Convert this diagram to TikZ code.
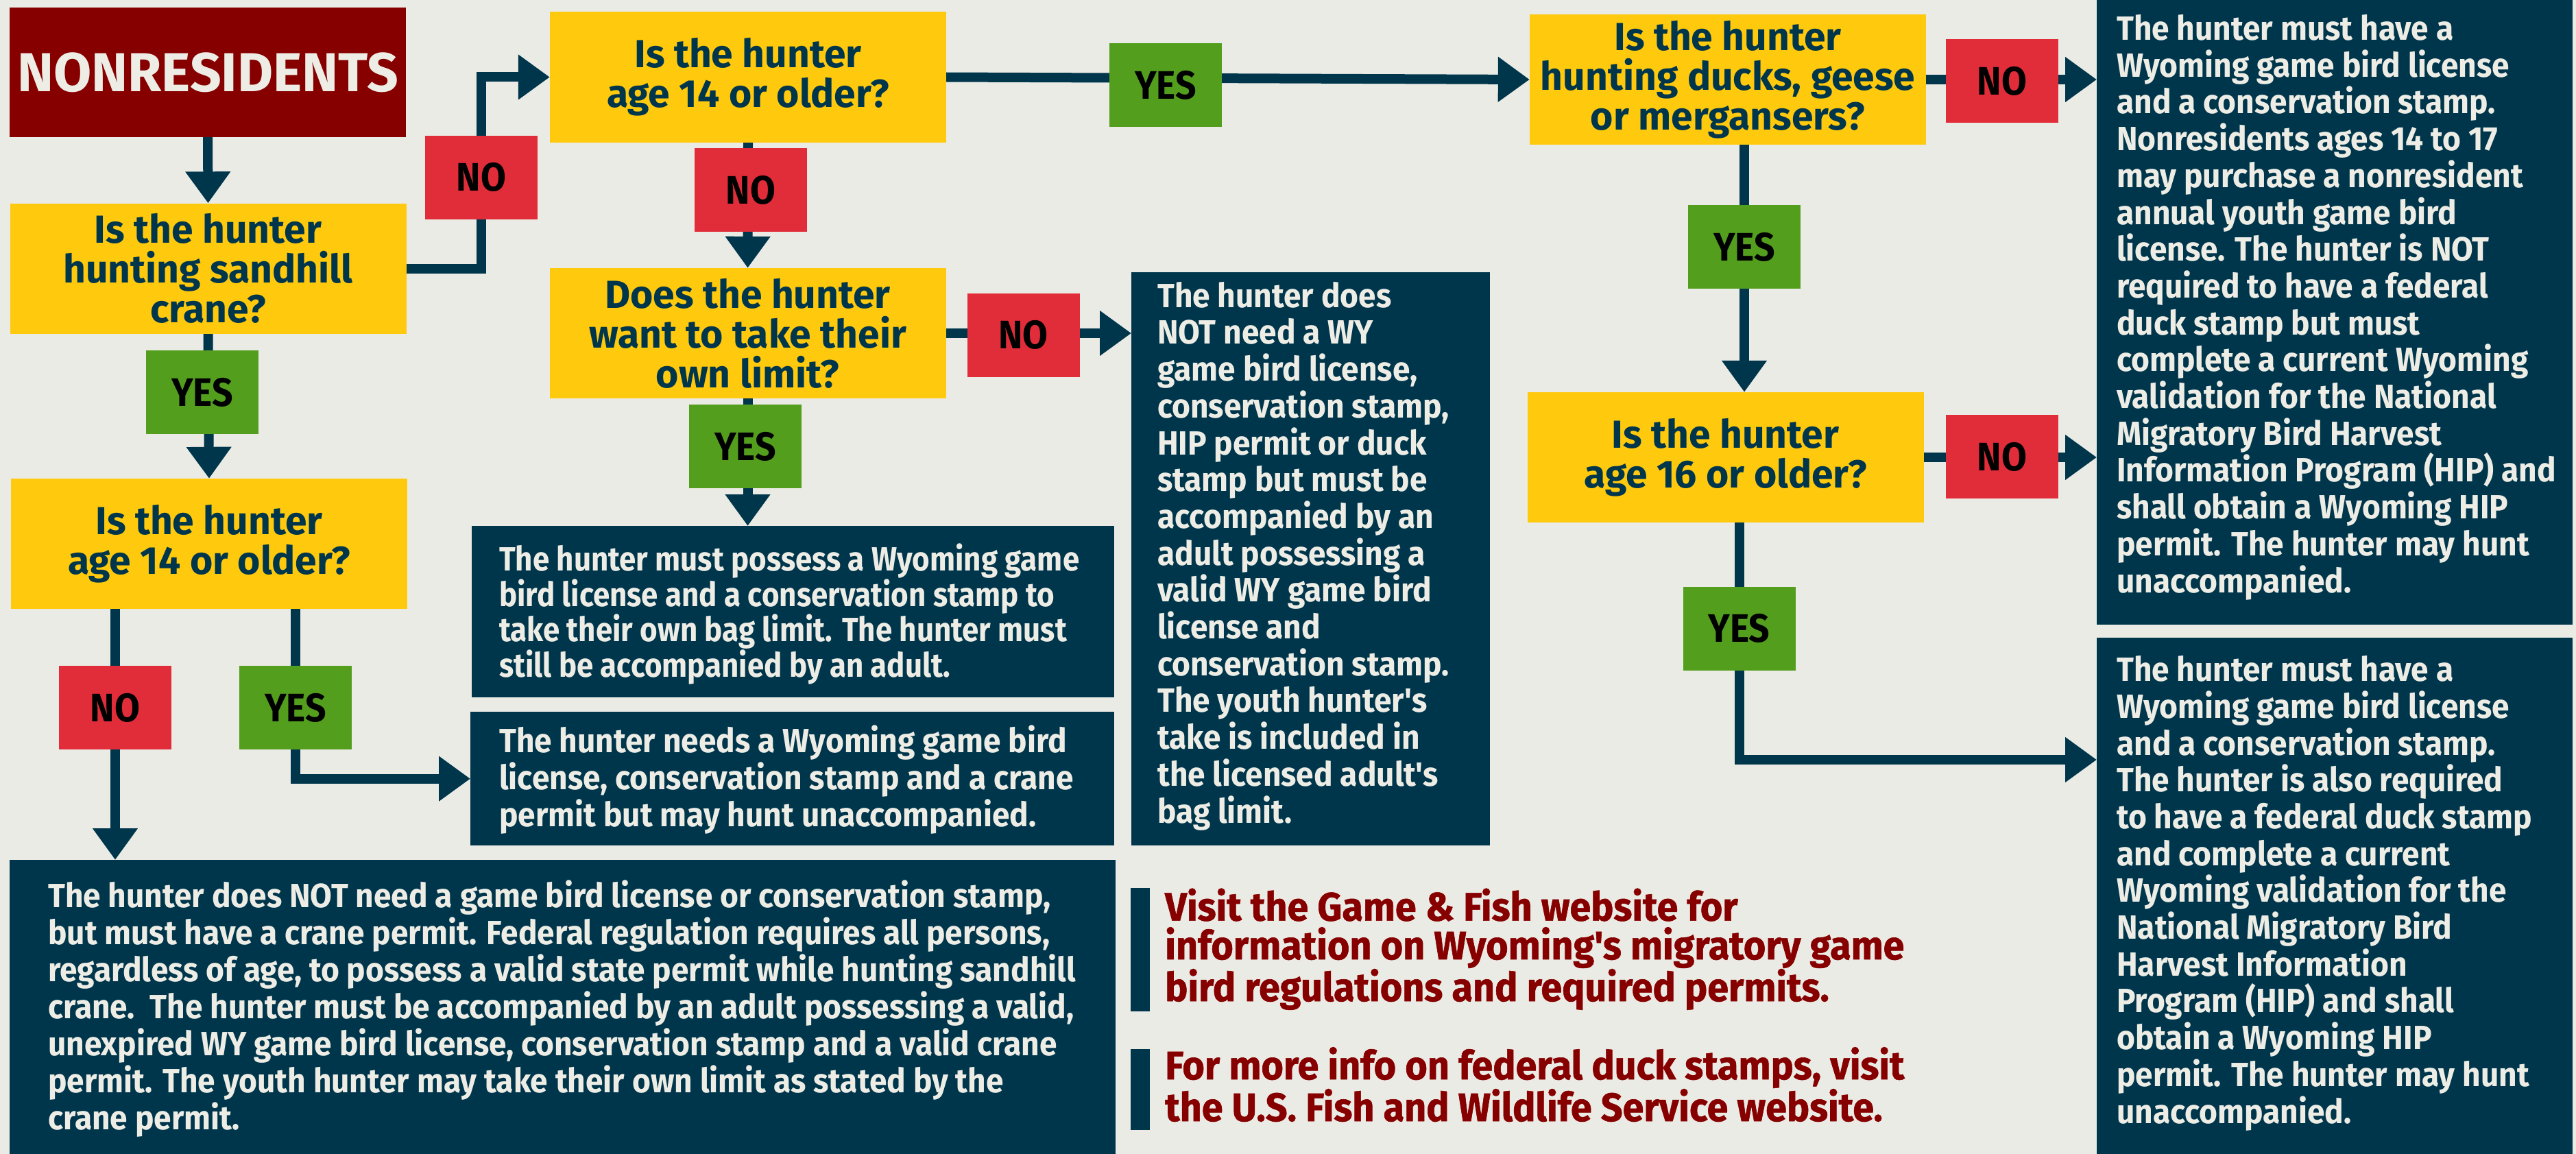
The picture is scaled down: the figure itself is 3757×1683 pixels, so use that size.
\documentclass[tikz,border=0pt]{standalone}
\usepackage{fontspec}
\setmainfont{Fira Sans}
\newfontfamily\fq{Fira Sans}
\newfontfamily\fb{Fira Sans}[FakeStretch=0.94]
\newfontfamily\fbn{Fira Sans}[FakeStretch=0.895]
\newfontfamily\fc{Fira Sans}[FakeStretch=0.92]
\newfontfamily\fr{Fira Sans}[FakeStretch=0.96,FakeBold=1]
\usetikzlibrary{arrows.meta}
\definecolor{bgc}{HTML}{EBEBE5}
\definecolor{navy}{HTML}{00364C}
\definecolor{ylw}{HTML}{FFC90E}
\definecolor{rd}{HTML}{E12D39}
\definecolor{grn}{HTML}{549E1E}
\definecolor{drd}{HTML}{870000}
\definecolor{lt}{HTML}{EDEDE6}
\pgfdeclarelayer{bg}
\pgfsetlayers{bg,main}
\tikzset{
  qbox/.style={fill=ylw, text=navy, inner sep=0pt, align=center, minimum width=578pt, minimum height=190pt, font=\fq\bfseries\fontsize{57}{58}\selectfont},
  nobox/.style={fill=rd, text=black, inner sep=0pt, minimum width=164pt, minimum height=122pt, font=\fc\bfseries\fontsize{58}{58}\selectfont},
  yesbox/.style={nobox, fill=grn},
  dbox/.style={fill=navy, inner sep=0pt, anchor=north west},
  dtext/.style={text=lt, inner sep=0pt, anchor=base west, align=left, font=\fb\bfseries\fontsize{49}{53.7}\selectfont},
  redtext/.style={text=drd, inner sep=0pt, anchor=base west, align=left, font=\fr\bfseries\fontsize{58}{56.5}\selectfont},
  conn/.style={draw=navy, line width=14pt, -{Triangle[length=46pt,width=63pt]}},
}
\begin{document}
\begin{tikzpicture}[x=1pt,y=-1pt]
\useasboundingbox (0,0) rectangle (3757,1683);
\begin{pgfonlayer}{bg}
\fill[bgc] (0,0) rectangle (3757,1683);
\end{pgfonlayer}

% header
\node[fill=drd, text=lt, inner sep=0pt, minimum width=578pt, minimum height=189pt, font=\fq\bfseries\fontsize{80}{80}\selectfont] (nonres) at (303,105.5) {NONRESIDENTS};

% question boxes
\node[qbox] (q1) at (303.5,391.5) {Is the hunter\\hunting sandhill\\crane?};
\node[qbox] (q2) at (1091,112.5) {Is the hunter\\age 14 or older?};
\node[qbox] (q4) at (1090.5,486) {Does the hunter\\want to take their\\own limit?};
\node[qbox] (q5) at (305,793) {Is the hunter\\age 14 or older?};
\node[qbox] (q3) at (2520,116) {Is the hunter\\hunting ducks, geese\\or mergansers?};
\node[qbox] (q6) at (2516.5,667) {Is the hunter\\age 16 or older?};

% answer boxes
\node[dbox, minimum width=523pt, minimum height=836pt] (dk1) at (1650,397) {};
\node[dbox, minimum width=937pt, minimum height=250pt] (dk2) at (688,767) {};
\node[dbox, minimum width=939pt, minimum height=195pt] (dk3) at (686,1038) {};
\node[dbox, minimum width=1613pt, minimum height=429pt] (dk4) at (14,1254) {};
\node[dbox, minimum width=694pt, minimum height=911pt] (dk5) at (3058,0) {};
\node[dbox, minimum width=694pt, minimum height=753pt] (dk6) at (3058,930) {};
\coordinate (t6) at (3058,1108);

% texts (anchored at the baseline of their last line)
\node[dtext] (tx1) at (1688,1200) {The hunter does\\NOT need a WY\\game bird license,\\conservation stamp,\\HIP permit or duck\\stamp but must be\\accompanied by an\\adult possessing a\\valid WY game bird\\license and\\conservation stamp.\\The youth hunter's\\take is included in\\the licensed adult's\\bag limit.};
\node[dtext, font=\fbn\bfseries\fontsize{49}{51.5}\selectfont] (tx2) at (728,987) {The hunter must possess a Wyoming game\\bird license and a conservation stamp to\\take their own bag limit. The hunter must\\still be accompanied by an adult.};
\node[dtext] (tx3) at (728,1205) {The hunter needs a Wyoming game bird\\license, conservation stamp and a crane\\permit but may hunt unaccompanied.};
\node[dtext, font=\fb\bfseries\fontsize{49}{54}\selectfont] (tx4) at (70,1647) {The hunter does NOT need a game bird license or conservation stamp,\\but must have a crane permit. Federal regulation requires all persons,\\regardless of age, to possess a valid state permit while hunting sandhill\\crane.\ \ The hunter must be accompanied by an adult possessing a valid,\\unexpired WY game bird license, conservation stamp and a valid crane\\permit. The youth hunter may take their own limit as stated by the\\crane permit.};
\node[dtext] (tx5) at (3087,864) {The hunter must have a\\Wyoming game bird license\\and a conservation stamp.\\Nonresidents ages 14 to 17\\may purchase a nonresident\\annual youth game bird\\license. The hunter is NOT\\required to have a federal\\duck stamp but must\\complete a current Wyoming\\validation for the National\\Migratory Bird Harvest\\Information Program (HIP) and\\shall obtain a Wyoming HIP\\permit. The hunter may hunt\\unaccompanied.};
\node[dtext] (tx6) at (3087,1638) {The hunter must have a\\Wyoming game bird license\\and a conservation stamp.\\The hunter is also required\\to have a federal duck stamp\\and complete a current\\Wyoming validation for the\\National Migratory Bird\\Harvest Information\\Program (HIP) and shall\\obtain a Wyoming HIP\\permit. The hunter may hunt\\unaccompanied.};

% labels
\node[nobox] (no1) at (702,258.5) {NO};
\node[yesbox] (yes1) at (1700,124) {YES};
\node[nobox] (no2) at (1095,277) {NO};
\node[nobox] (no3) at (1492.5,488.5) {NO};
\node[yesbox] (yes2) at (1087,651) {YES};
\node[yesbox] (yes3) at (295,572) {YES};
\node[nobox] (no4) at (168,1032) {NO};
\node[yesbox] (yes4) at (431,1032) {YES};
\node[nobox] (no5) at (2920,118) {NO};
\node[yesbox] (yes5) at (2544,360) {YES};
\node[nobox] (no6) at (2920,666) {NO};
\node[yesbox] (yes6) at (2536.5,916.5) {YES};

% info notes
\fill[navy] (1649,1295) rectangle (1677,1475);
\fill[navy] (1649,1530) rectangle (1677,1648);
\node[redtext] (info1) at (1699,1460) {Visit the Game \& Fish website for\\information on Wyoming's migratory game\\bird regulations and required permits.};
\node[redtext] (info2) at (1699,1635) {For more info on federal duck stamps, visit\\the U.S. Fish and Wildlife Service website.};

% connectors
\begin{pgfonlayer}{bg}
\draw[conn] (nonres.south) -- (q1.north);
\draw[conn] (q1.east) -| (no1.center) |- (q2.west);
\draw[conn] (q2.east) -- (q3.west);
\draw[conn] (q2.south) -- (q4.north);
\draw[conn] (q4.east) -- (q4.east -| dk1.west);
\draw[conn] (q4.south) -- (q4.south |- dk2.north);
\draw[conn] (q1.south) -- (q5.north);
\draw[conn] (no4.center |- q5.south) -- (no4.center |- dk4.north);
\draw[conn] (yes4.center |- q5.south) |- (dk3.west);
\draw[conn] (yes5.center |- q3.south) -- (yes5.center |- q6.north);
\draw[conn] (q3.east) -- (q3.east -| dk5.west);
\draw[conn] (q6.east) -- (q6.east -| dk5.west);
\draw[conn] (yes6.center |- q6.south) |- (t6);
\end{pgfonlayer}
\end{tikzpicture}
\end{document}
